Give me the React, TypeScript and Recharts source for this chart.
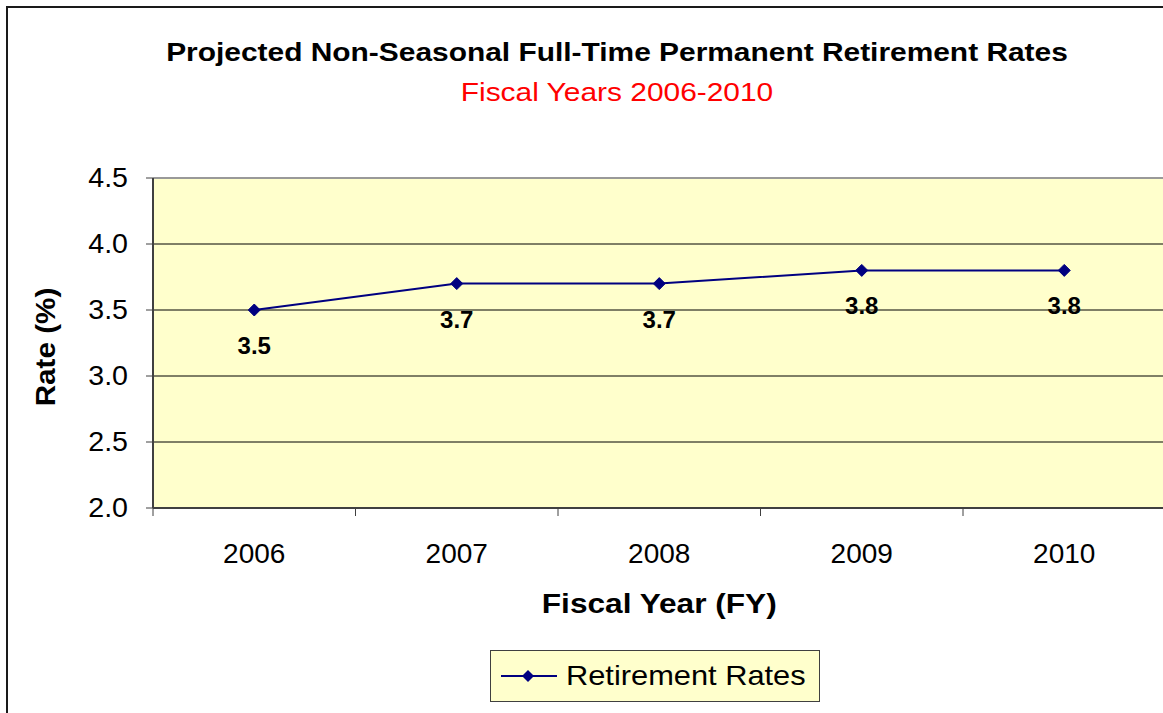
import React from 'react'
import {
  LineChart,
  Line,
  XAxis,
  YAxis,
  CartesianGrid,
  ReferenceLine,
  LabelList,
  Legend,
  Label,
} from 'recharts'

const FONT = '"Liberation Sans", Arial, sans-serif'

const years = ['2006', '2007', '2008', '2009', '2010']
const retirementRates = [3.5, 3.7, 3.7, 3.8, 3.8]
const yTicks = [2.0, 2.5, 3.0, 3.5, 4.0, 4.5]

const chartData = years.map((year, i) => ({ year, rate: retirementRates[i] }))

// plot geometry
const CHART_W = 1180
const CHART_H = 713
const PLOT_LEFT = 153
const PLOT_RIGHT = 1165.5
const PLOT_TOP = 178
const PLOT_BOTTOM = 508
const BAND = (PLOT_RIGHT - PLOT_LEFT) / years.length

const NAVY = '#000080'

const Diamond = (props: any) => {
  const { cx, cy } = props
  if (cx == null || cy == null) return null
  const r = 6
  return (
    <path
      d={`M${cx},${cy - r}L${cx + r},${cy}L${cx},${cy + r}L${cx - r},${cy}Z`}
      fill={NAVY}
      stroke={NAVY}
    />
  )
}

const YearTick = (props: any) => {
  const { x, y, payload } = props
  return (
    <g>
      <line x1={x - BAND / 2} y1={y} x2={x - BAND / 2} y2={y + 8} stroke="#404040" />
      <text
        x={x}
        y={y + 45}
        textAnchor="middle"
        dominantBaseline="central"
        fontSize={28}
        fontFamily={FONT}
        fill="#000"
      >
        {payload.value}
      </text>
    </g>
  )
}

const RateTick = (props: any) => {
  const { x, y, payload } = props
  return (
    <text
      transform={`translate(${x},${y}) scale(1.06,1)`}
      textAnchor="end"
      dominantBaseline="central"
      fontSize={27}
      fontFamily={FONT}
      fill="#000"
    >
      {Number(payload.value).toFixed(1)}
    </text>
  )
}

const XTitle = (props: any) => {
  const { viewBox } = props
  const cx = viewBox.x + viewBox.width / 2
  return (
    <text
      transform={`translate(${cx},${viewBox.y + 95}) scale(1.13,1)`}
      textAnchor="middle"
      dominantBaseline="central"
      fontSize={28}
      fontWeight="bold"
      fontFamily={FONT}
      fill="#000"
    >
      Fiscal Year (FY)
    </text>
  )
}

const YTitle = (props: any) => {
  const { viewBox } = props
  const cy = viewBox.y + viewBox.height / 2 + 4
  return (
    <text
      transform={`translate(45,${cy}) rotate(-90) scale(1.06,1)`}
      textAnchor="middle"
      dominantBaseline="central"
      fontSize={28}
      fontWeight="bold"
      fontFamily={FONT}
      fill="#000"
    >
      Rate (%)
    </text>
  )
}

const LegendBox = () => (
  <div
    style={{
      width: 330,
      height: 52,
      boxSizing: 'border-box',
      background: '#FFFFCC',
      border: '1.5px solid #404040',
      position: 'relative',
      fontFamily: FONT,
      color: '#000',
    }}
  >
    <svg width={70} height={20} style={{ position: 'absolute', left: 9, top: 15 }}>
      <line x1={1} y1={10} x2={57} y2={10} stroke={NAVY} strokeWidth={2} />
      <path d="M28,4L34,10L28,16L22,10Z" fill={NAVY} />
    </svg>
    <span
      style={{
        position: 'absolute',
        left: 75,
        top: 8,
        fontSize: 28,
        lineHeight: '34px',
        whiteSpace: 'nowrap',
        transform: 'scaleX(1.1)',
        transformOrigin: 'left center',
      }}
    >
      Retirement Rates
    </span>
  </div>
)

export default function App() {
  return (
    <div
      style={{
        position: 'fixed',
        left: 0,
        top: 0,
        width: 1163,
        height: 713,
        overflow: 'hidden',
        background: '#fff',
        fontFamily: FONT,
      }}
    >
      <div
        style={{
          position: 'absolute',
          left: 6,
          top: 6,
          width: 1200,
          height: 760,
          border: '2px solid #1a1a1a',
          boxSizing: 'border-box',
        }}
      />
      <div
        style={{
          position: 'absolute',
          left: 0,
          width: 1234,
          top: 36,
          textAlign: 'center',
          fontWeight: 'bold',
          fontSize: 26,
          color: '#000',
          lineHeight: '32px',
          whiteSpace: 'nowrap',
          transform: 'scaleX(1.15)',
          transformOrigin: '617px center',
        }}
      >
        Projected Non-Seasonal Full-Time Permanent Retirement Rates
      </div>
      <div
        style={{
          position: 'absolute',
          left: 0,
          width: 1234,
          top: 76,
          textAlign: 'center',
          fontSize: 26,
          color: '#FF0000',
          lineHeight: '32px',
          whiteSpace: 'nowrap',
          transform: 'scaleX(1.15)',
          transformOrigin: '617px center',
        }}
      >
        Fiscal Years 2006-2010
      </div>
      <div style={{ position: 'absolute', left: 0, top: 0 }}>
        <LineChart
          width={CHART_W}
          height={CHART_H}
          data={chartData}
          margin={{
            top: PLOT_TOP,
            right: CHART_W - PLOT_RIGHT,
            bottom: CHART_H - PLOT_BOTTOM - 60,
            left: PLOT_LEFT - 80,
          }}
        >
          <CartesianGrid
            vertical={false}
            stroke="#000"
            fill="#FFFFCC"
            fillOpacity={1}
          />
          <ReferenceLine y={4.5} stroke="#999" strokeWidth={2} />
          <XAxis
            dataKey="year"
            height={60}
            padding={{ left: BAND / 2, right: BAND / 2 }}
            axisLine={{ stroke: '#404040', strokeWidth: 2 }}
            tickLine={false}
            tickSize={0}
            tickMargin={0}
            tick={<YearTick />}
            interval={0}
          >
            <Label content={<XTitle />} />
          </XAxis>
          <YAxis
            width={80}
            domain={[2, 4.5]}
            ticks={yTicks}
            interval={0}
            axisLine={{ stroke: '#404040', strokeWidth: 2 }}
            tickLine={{ stroke: '#404040' }}
            tickSize={7}
            tickMargin={18}
            tick={<RateTick />}
          >
            <Label content={<YTitle />} />
          </YAxis>
          <Line
            dataKey="rate"
            name="Retirement Rates"
            stroke={NAVY}
            strokeWidth={2}
            dot={<Diamond />}
            activeDot={false}
            isAnimationActive={false}
          >
            <LabelList
              dataKey="rate"
              position="bottom"
              offset={27}
              formatter={(v: any) => Number(v).toFixed(1)}
              style={{ fontSize: 24, fontWeight: 'bold', fill: '#000', fontFamily: FONT }}
            />
          </Line>
          <Legend
            layout="horizontal"
            verticalAlign="middle"
            align="center"
            content={<LegendBox />}
            wrapperStyle={{ left: 490, top: 650, width: 330, height: 52 }}
          />
        </LineChart>
      </div>
    </div>
  )
}
